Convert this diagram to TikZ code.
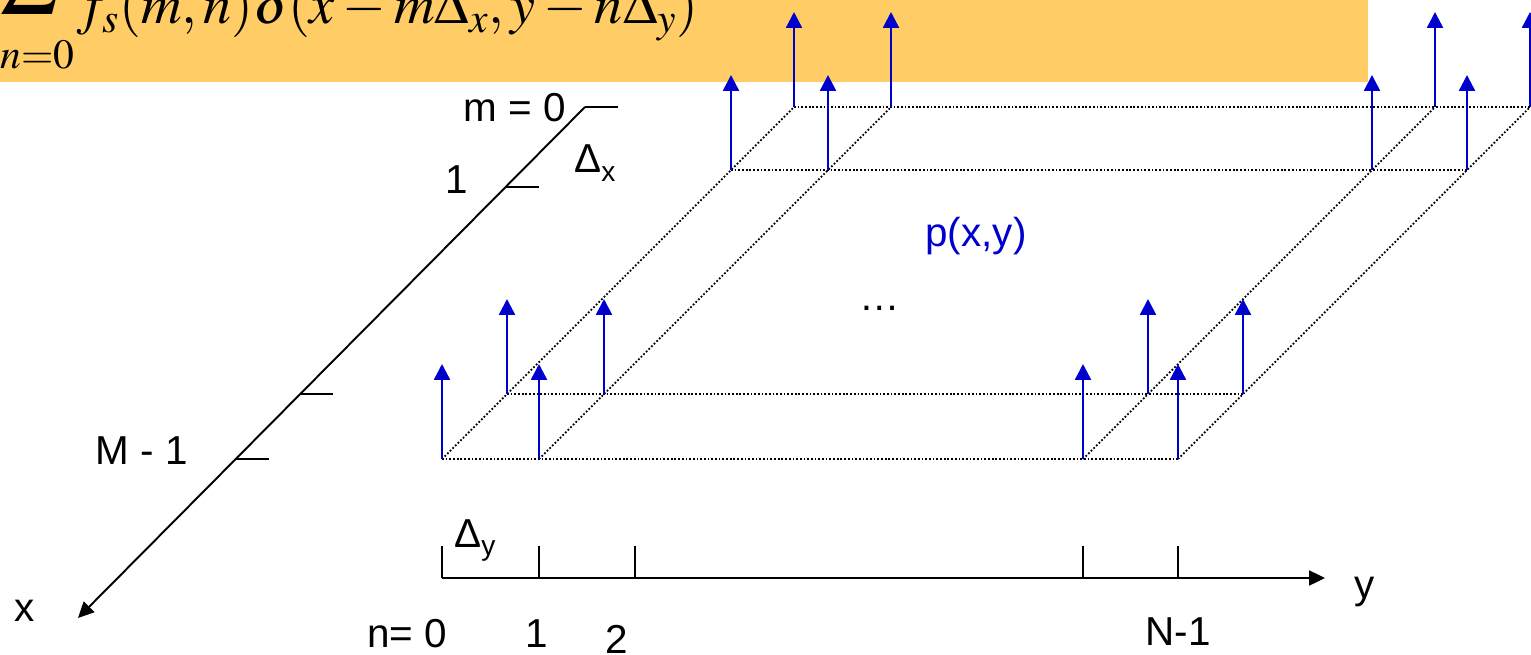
\documentclass[tikz,border=0pt]{standalone}
\usepackage{mathptmx}
\usepackage{fontspec}
\setmainfont{Liberation Sans}
\usetikzlibrary{arrows.meta}
\definecolor{stickblue}{RGB}{0,0,204}
\definecolor{bannerorange}{RGB}{255,204,102}
\newcommand{\dsub}[2]{#1\raisebox{-5pt}{\fontsize{16}{18}\selectfont #2}}

\begin{document}
\begin{tikzpicture}[x=0.02cm, y=-0.02cm,
  axisline/.style={line width=1.1pt, draw=black},
  axisarrow/.style={axisline, -{Triangle[width=8.5pt,length=9pt]}},
  gridline/.style={line width=1pt, dash pattern=on 1pt off 1.1pt, draw=black},
  stick/.style={-{Triangle[width=9pt,length=9pt]}, line width=1.4pt, draw=stickblue},
  lbl/.style={font=\fontsize{23}{26}\selectfont, inner sep=0pt},
  formulafont/.style={font=\fontsize{32}{38}\selectfont, inner sep=0pt}
]
\useasboundingbox (0,0) rectangle (1531,655);
\clip (0,0) rectangle (1531,655);

% ---------- Banner with formula ----------
\fill[bannerorange] (0,0) rectangle (1368,82);
\node[formulafont, anchor=base west] (formula) at (0,24)
  {$\mathop{\raisebox{18pt}{$\displaystyle\sum$}}\;f_s(m,n)\delta(x-m\Delta_x,y-n\Delta_y)$};
\node[formulafont, anchor=base west] (sumlow) at (0,69) {$\scriptstyle n=0$};

% ---------- Sample grid ----------
\foreach \r/\d in {0/0,1/65,2/289,3/352}
  \foreach \c/\w in {0/0,1/97,2/641,3/736}{
    \coordinate (g\r\c) at ({442+\w+\d},{459-\d});
    \coordinate (t\r\c) at ({442+\w+\d},{364-\d});
  }
\foreach \r in {0,...,3}
  \draw[gridline] (g\r0) -- (g\r3);
\foreach \c in {0,...,3}
  \draw[gridline] (g0\c) -- (g3\c);

% ---------- Impulses ----------
\foreach \r in {3,2,1,0}
  \foreach \c in {0,...,3}
    \draw[stick] (g\r\c) -- (t\r\c);

% ---------- x axis ----------
\coordinate (xtop) at (585,107);
\coordinate (xend) at (78,618);
\draw[axisarrow] (xtop) -- (xend);
\foreach \n/\yy in {a/107,b/187,c/394,d/459}{
  \coordinate (xt\n) at ({585-(\yy-107)*0.9922},\yy);
  \coordinate (xs\n) at ({618-(\yy-107)*0.9922},\yy);
  \draw[axisline] (xt\n) -- (xs\n);
}

% ---------- y axis ----------
\coordinate (yorg) at (442,578);
\coordinate (yend) at (1325,578);
\draw[axisarrow] (yorg) -- (yend);
\foreach \n/\xx in {a/442,b/539,c/635,d/1083,e/1178}{
  \coordinate (yt\n) at (\xx,578);
  \coordinate (ys\n) at (\xx,546);
  \draw[axisline] (yt\n) -- (ys\n);
}

% ---------- Labels ----------
\node[lbl, anchor=base west] (mzero) at (463,122) {m = 0};
\node[lbl] (mone) at (457,180) {1};
\node[lbl, anchor=base west] (deltax) at (574,173) {\dsub{Δ}{x}};
\node[lbl] (mlast) at (142,451) {M - 1};
\node[lbl] (xname) at (25,611) {x};
\node[lbl, anchor=base west] (deltay) at (454,547) {\dsub{Δ}{y}};
\node[lbl] (nzero) at (407,634) {n= 0};
\node[lbl] (none) at (537,634) {1};
\node[lbl] (ntwo) at (617,639) {2};
\node[lbl] (nlast) at (1178,632) {N-1};
\node[lbl, anchor=base] (yname) at (1365,598) {y};
\node[lbl, anchor=base, text=stickblue] (pxy) at (976,247) {p(x,y)};
\node[lbl, anchor=base] (dots) at (880,310) {…};

\end{tikzpicture}
\end{document}
